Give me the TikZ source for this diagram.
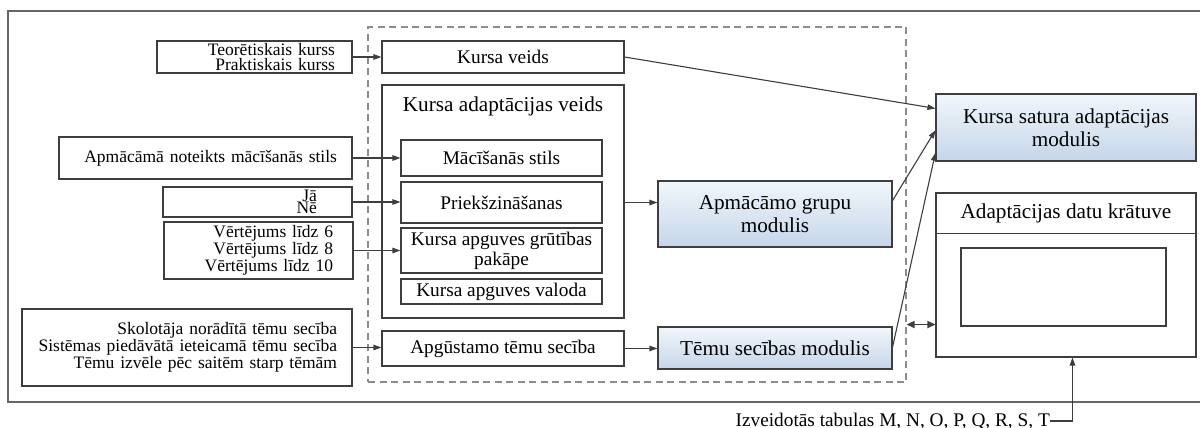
\documentclass[tikz,border=0pt]{standalone}
\usepackage{fontspec}
\setmainfont{Liberation Serif}
\usetikzlibrary{arrows.meta,calc,shadows}

\definecolor{linec}{HTML}{3E3E3E}
\definecolor{framec}{HTML}{666666}
\definecolor{dashc}{HTML}{8C8C8C}
\definecolor{bluetop}{HTML}{F1F6FB}
\definecolor{bluebot}{HTML}{C5D6E9}

\begin{document}
\begin{tikzpicture}[x=1pt,y=-1pt,
  box/.style={draw=linec,line width=1.1pt,fill=white,inner sep=0pt},
  wh/.style 2 args={minimum width=#1pt,minimum height=#2pt},
  leftfont/.style={font=\fontsize{17.5}{15.5}\selectfont,align=right},
  midfont/.style={font=\fontsize{19.3}{20.5}\selectfont,align=center},
  bigfont/.style={font=\fontsize{21.2}{23}\selectfont,align=center},
  shadowed/.style={drop shadow={shadow xshift=1.4pt,shadow yshift=-1.4pt,fill=black!55,opacity=0.8}},
  module/.style={box,shadowed,top color=bluetop,bottom color=bluebot},
  tip/.tip={Triangle[length=8pt,width=5.5pt]},
  conn/.style={draw=linec,line width=1.1pt,-tip},
  both/.style={draw=linec,line width=1.6pt,{Triangle[length=8pt,width=7pt]}-{Triangle[length=8pt,width=7pt]}}
]
\useasboundingbox (0,0) rectangle (1200,428);

% outer frame (open on the right)
\draw[framec,line width=1.3pt] (1200,11) -- (8,11) -- (8,402) -- (1200,402);

% dashed group around the course modules
\node[draw=dashc,line width=1.1pt,dash pattern=on 7pt off 4.5pt,inner sep=0pt,wh={538}{355}] (grp) at (637,204.5) {};

% input descriptions (left column)
\node[box,wh={195}{32},leftfont,text width=161pt] (teo) at (254.5,57)
  {Teorētiskais kurss\\Praktiskais kurss};
\node[box,wh={293}{42},leftfont,text width=263pt] (apm) at (205.5,158)
  {Apmācāmā noteikts mācīšanās stils};
\node[box,wh={189}{30},font=\fontsize{17.5}{12}\selectfont,align=right,text width=119pt] (jane) at (257.5,202)
  {Jā\\Nē};
\node[box,wh={189}{57},leftfont,text width=149pt] (vert) at (258.5,250.5)
  {Vērtējums līdz 6\\Vērtējums līdz 8\\Vērtējums līdz 10};
\node[box,wh={330}{77},leftfont,text width=300pt] (skol) at (187,347.5)
  {Skolotāja norādītā tēmu secība\\Sistēmas piedāvātā ieteicamā tēmu secība\\Tēmu izvēle pēc saitēm starp tēmām};

% course parameters (middle column)
\node[box,wh={242}{32},midfont] (kveids) at (503,57) {Kursa veids};
\node[box,wh={242}{233}] (kav) at (503,201.5) {};
\node[bigfont,inner sep=0pt] (kavt) at (503,106) {Kursa adaptācijas veids};
\node[box,wh={201}{36},midfont] (mac) at (501.5,158) {Mācīšanās stils};
\node[box,wh={201}{41},midfont] (prk) at (501.5,202.5) {Priekšzināšanas};
\node[box,wh={201}{45},midfont,font=\fontsize{19.3}{20}\selectfont] (grut) at (501.5,250.5)
  {Kursa apguves grūtības\\pakāpe};
\node[box,wh={201}{25},midfont] (val) at (501.5,291.5) {Kursa apguves valoda};
\node[box,wh={242}{35},midfont] (apg) at (503,348.5) {Apgūstamo tēmu secība};

% modules
\node[module,wh={234}{66},bigfont] (agm) at (775,214) {Apmācāmo grupu\\modulis};
\node[module,wh={234}{42},bigfont] (tsm) at (775,348) {Tēmu secības modulis};
\node[module,wh={260}{67},bigfont] (ksam) at (1066,127.5) {Kursa satura adaptācijas\\modulis};

% adaptation data store
\node[box,shadowed,wh={260}{164}] (adk) at (1066,275) {};
\node[bigfont,inner sep=0pt] (adkt) at (1066,213.5) {Adaptācijas datu krātuve};
\draw[draw=linec,line width=1.1pt] ($(adk.north west)+(0,41)$) -- ($(adk.north east)+(0,41)$);
\node[box,wh={205}{78}] (adkbox) at (1063.5,287) {};

% created tables label
\node[anchor=east,inner sep=0pt,font=\fontsize{19.3}{20}\selectfont] (tbl) at (1050,421)
  {Izveidotās tabulas M, N, O, P, Q, R, S, T};

% connectors
\draw[conn] (teo.east) -- (kveids.west);
\draw[conn] (apm.east) -- (mac.west);
\draw[conn] (jane.east) -- (jane.east -| prk.west);
\draw[conn] (vert.east) -- (grut.west);
\draw[conn] (skol.east) -- (skol.east -| apg.west);
\draw[conn] (kav.east |- prk.east) -- (agm.west |- prk.east);
\draw[conn] (apg.east) -- (apg.east -| tsm.west);
\draw[conn] (kveids.east) -- ($(ksam.north west)!0.22!(ksam.south west)$);
\draw[conn] ($(agm.north east)!0.3!(agm.south east)$) -- ($(ksam.north west)!0.54!(ksam.south west)$);
\draw[conn] ($(tsm.north east)!0.48!(tsm.south east)$) -- ($(ksam.north west)!0.87!(ksam.south west)$);
\coordinate (adkl) at ($(adk.north west)!0.8!(adk.south west)$);
\draw[both] (grp.east |- adkl) -- (adkl);
\coordinate (adkin) at ($(adk.south west)+(137,0)$);
\draw[conn] (tbl.east) -| (adkin);
\end{tikzpicture}
\end{document}
